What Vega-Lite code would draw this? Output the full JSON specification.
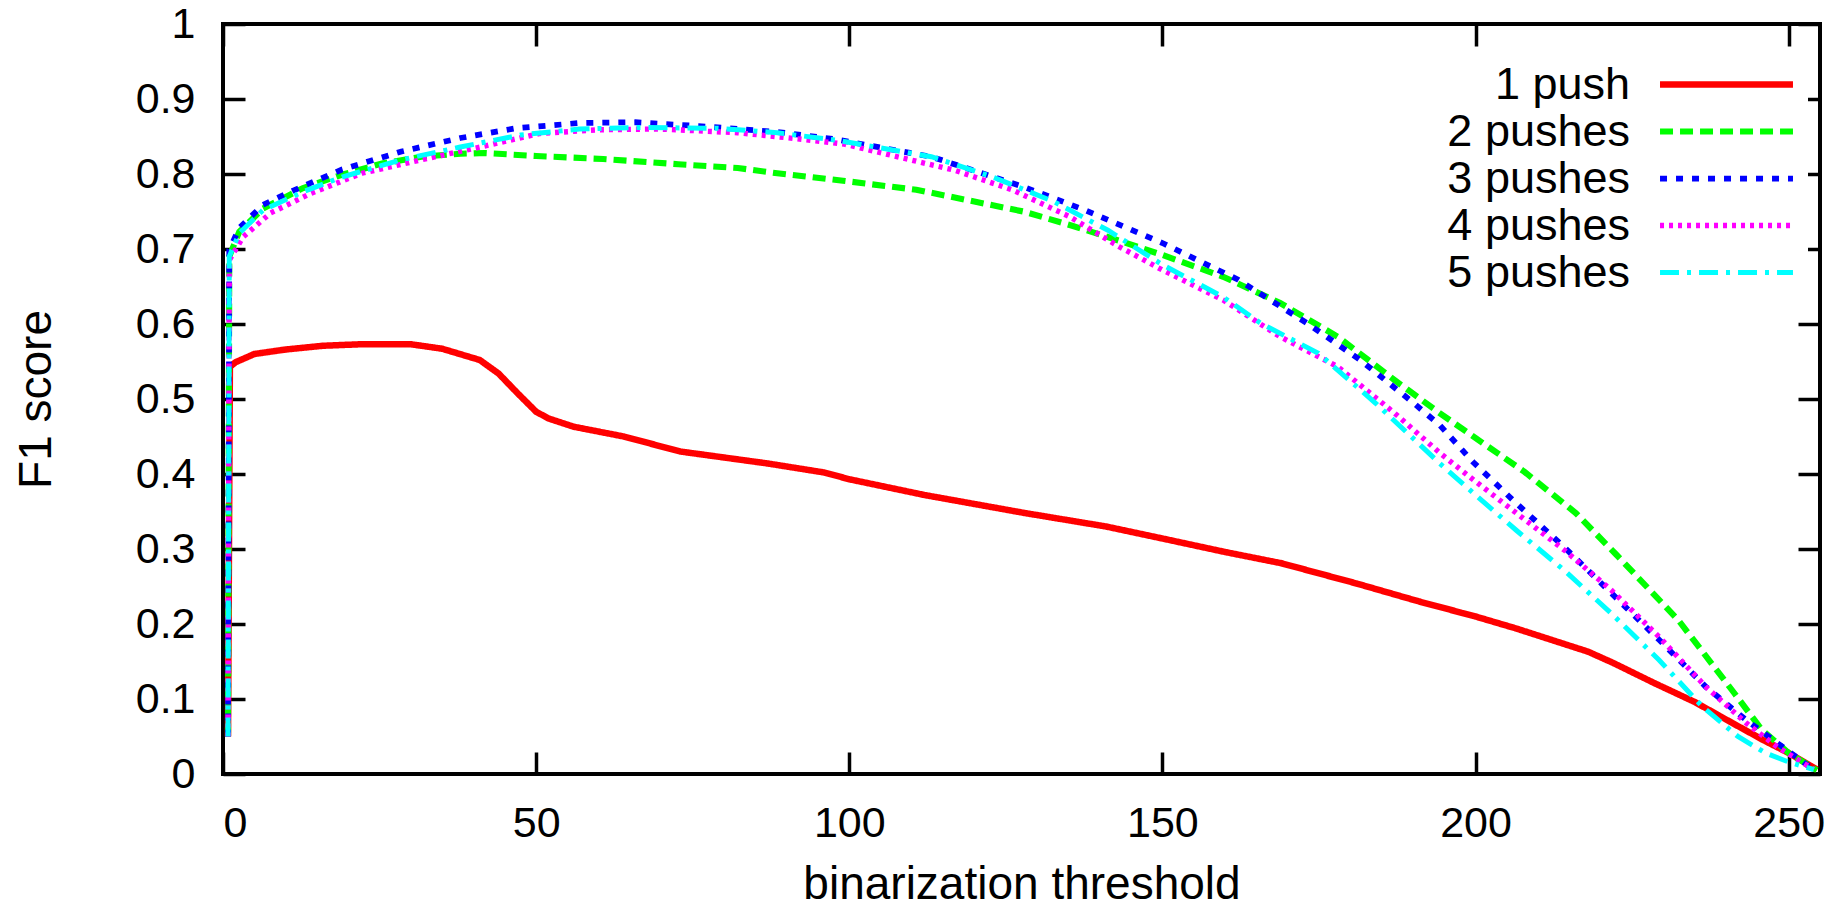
{
  "$schema": "https://vega.github.io/schema/vega-lite/v6.json",
  "width": 1597,
  "height": 750,
  "autosize": {"type": "none"},
  "padding": {"left": 223, "top": 24, "right": 27, "bottom": 134},
  "background": "white",
  "config": {
    "view": {"stroke": "black", "strokeWidth": 4},
    "font": "Liberation Sans",
    "axis": {
      "domain": false,
      "tickColor": "black",
      "tickWidth": 3.5,
      "tickSize": -22,
      "gridColor": "#444444",
      "gridWidth": 1.2,
      "gridDash": [4, 5],
      "labelFont": "Liberation Sans",
      "labelFontSize": 43,
      "labelColor": "black",
      "titleFont": "Liberation Sans",
      "titleFontSize": 46,
      "titleFontWeight": "normal",
      "titleColor": "black"
    }
  },
  "data": {
    "values": [
      {"s": "1 push", "t": 0.8, "f": 0.05}, {"s": "1 push", "t": 1.1, "f": 0.543}, {"s": "1 push", "t": 2, "f": 0.549}, {"s": "1 push", "t": 5, "f": 0.56}, {"s": "1 push", "t": 10, "f": 0.566}, {"s": "1 push", "t": 16, "f": 0.571}, {"s": "1 push", "t": 22, "f": 0.573}, {"s": "1 push", "t": 30, "f": 0.573}, {"s": "1 push", "t": 35, "f": 0.567}, {"s": "1 push", "t": 41, "f": 0.552}, {"s": "1 push", "t": 44, "f": 0.534}, {"s": "1 push", "t": 47, "f": 0.508}, {"s": "1 push", "t": 50, "f": 0.483}, {"s": "1 push", "t": 52, "f": 0.474}, {"s": "1 push", "t": 56, "f": 0.463}, {"s": "1 push", "t": 64, "f": 0.45}, {"s": "1 push", "t": 73, "f": 0.43}, {"s": "1 push", "t": 87, "f": 0.414}, {"s": "1 push", "t": 96, "f": 0.402}, {"s": "1 push", "t": 100, "f": 0.393}, {"s": "1 push", "t": 112, "f": 0.372}, {"s": "1 push", "t": 128, "f": 0.348}, {"s": "1 push", "t": 141, "f": 0.33}, {"s": "1 push", "t": 150, "f": 0.314}, {"s": "1 push", "t": 160, "f": 0.296}, {"s": "1 push", "t": 169, "f": 0.281}, {"s": "1 push", "t": 181, "f": 0.254}, {"s": "1 push", "t": 191, "f": 0.23}, {"s": "1 push", "t": 200, "f": 0.21}, {"s": "1 push", "t": 206.5, "f": 0.194}, {"s": "1 push", "t": 218, "f": 0.163}, {"s": "1 push", "t": 222, "f": 0.148}, {"s": "1 push", "t": 228.6, "f": 0.121}, {"s": "1 push", "t": 235, "f": 0.096}, {"s": "1 push", "t": 241, "f": 0.068}, {"s": "1 push", "t": 246, "f": 0.045}, {"s": "1 push", "t": 250, "f": 0.028}, {"s": "1 push", "t": 254.5, "f": 0.006},
      {"s": "2 pushes", "t": 0.8, "f": 0.05}, {"s": "2 pushes", "t": 1, "f": 0.69}, {"s": "2 pushes", "t": 2.6, "f": 0.723}, {"s": "2 pushes", "t": 6.4, "f": 0.754}, {"s": "2 pushes", "t": 12.7, "f": 0.781}, {"s": "2 pushes", "t": 19, "f": 0.799}, {"s": "2 pushes", "t": 25.4, "f": 0.814}, {"s": "2 pushes", "t": 31.7, "f": 0.823}, {"s": "2 pushes", "t": 37.9, "f": 0.827}, {"s": "2 pushes", "t": 41.8, "f": 0.828}, {"s": "2 pushes", "t": 50, "f": 0.824}, {"s": "2 pushes", "t": 60.7, "f": 0.82}, {"s": "2 pushes", "t": 72.7, "f": 0.813}, {"s": "2 pushes", "t": 82.2, "f": 0.808}, {"s": "2 pushes", "t": 88.5, "f": 0.801}, {"s": "2 pushes", "t": 99, "f": 0.791}, {"s": "2 pushes", "t": 110.7, "f": 0.779}, {"s": "2 pushes", "t": 127.8, "f": 0.75}, {"s": "2 pushes", "t": 135.2, "f": 0.732}, {"s": "2 pushes", "t": 141.3, "f": 0.716}, {"s": "2 pushes", "t": 150, "f": 0.692}, {"s": "2 pushes", "t": 159.7, "f": 0.663}, {"s": "2 pushes", "t": 168.8, "f": 0.628}, {"s": "2 pushes", "t": 178, "f": 0.583}, {"s": "2 pushes", "t": 187.1, "f": 0.525}, {"s": "2 pushes", "t": 194.3, "f": 0.481}, {"s": "2 pushes", "t": 200, "f": 0.448}, {"s": "2 pushes", "t": 207.8, "f": 0.403}, {"s": "2 pushes", "t": 216, "f": 0.348}, {"s": "2 pushes", "t": 222.3, "f": 0.294}, {"s": "2 pushes", "t": 232.4, "f": 0.205}, {"s": "2 pushes", "t": 241.3, "f": 0.108}, {"s": "2 pushes", "t": 245.7, "f": 0.059}, {"s": "2 pushes", "t": 250, "f": 0.028}, {"s": "2 pushes", "t": 254.5, "f": 0.005},
      {"s": "3 pushes", "t": 0.8, "f": 0.05}, {"s": "3 pushes", "t": 1, "f": 0.699}, {"s": "3 pushes", "t": 2.6, "f": 0.728}, {"s": "3 pushes", "t": 6.4, "f": 0.759}, {"s": "3 pushes", "t": 11.5, "f": 0.779}, {"s": "3 pushes", "t": 19, "f": 0.806}, {"s": "3 pushes", "t": 28.5, "f": 0.83}, {"s": "3 pushes", "t": 37.9, "f": 0.848}, {"s": "3 pushes", "t": 46.8, "f": 0.861}, {"s": "3 pushes", "t": 56.9, "f": 0.868}, {"s": "3 pushes", "t": 65.8, "f": 0.869}, {"s": "3 pushes", "t": 75.9, "f": 0.864}, {"s": "3 pushes", "t": 88.5, "f": 0.856}, {"s": "3 pushes", "t": 98, "f": 0.846}, {"s": "3 pushes", "t": 113.1, "f": 0.823}, {"s": "3 pushes", "t": 127.8, "f": 0.783}, {"s": "3 pushes", "t": 137.6, "f": 0.752}, {"s": "3 pushes", "t": 150, "f": 0.708}, {"s": "3 pushes", "t": 162.1, "f": 0.659}, {"s": "3 pushes", "t": 173.1, "f": 0.601}, {"s": "3 pushes", "t": 181.6, "f": 0.552}, {"s": "3 pushes", "t": 190.2, "f": 0.494}, {"s": "3 pushes", "t": 194.3, "f": 0.465}, {"s": "3 pushes", "t": 199.6, "f": 0.416}, {"s": "3 pushes", "t": 206.5, "f": 0.361}, {"s": "3 pushes", "t": 214.1, "f": 0.303}, {"s": "3 pushes", "t": 221.7, "f": 0.241}, {"s": "3 pushes", "t": 229.3, "f": 0.179}, {"s": "3 pushes", "t": 236.8, "f": 0.116}, {"s": "3 pushes", "t": 243.2, "f": 0.072}, {"s": "3 pushes", "t": 247.6, "f": 0.045}, {"s": "3 pushes", "t": 253.6, "f": 0.008},
      {"s": "4 pushes", "t": 0.8, "f": 0.05}, {"s": "4 pushes", "t": 1, "f": 0.685}, {"s": "4 pushes", "t": 3.2, "f": 0.716}, {"s": "4 pushes", "t": 7.6, "f": 0.748}, {"s": "4 pushes", "t": 14, "f": 0.774}, {"s": "4 pushes", "t": 22.2, "f": 0.801}, {"s": "4 pushes", "t": 31.7, "f": 0.819}, {"s": "4 pushes", "t": 41.1, "f": 0.836}, {"s": "4 pushes", "t": 50.6, "f": 0.854}, {"s": "4 pushes", "t": 60.1, "f": 0.859}, {"s": "4 pushes", "t": 69.6, "f": 0.86}, {"s": "4 pushes", "t": 82.2, "f": 0.855}, {"s": "4 pushes", "t": 91.6, "f": 0.847}, {"s": "4 pushes", "t": 99.1, "f": 0.84}, {"s": "4 pushes", "t": 116.8, "f": 0.805}, {"s": "4 pushes", "t": 126, "f": 0.779}, {"s": "4 pushes", "t": 135.2, "f": 0.743}, {"s": "4 pushes", "t": 143.1, "f": 0.703}, {"s": "4 pushes", "t": 150, "f": 0.672}, {"s": "4 pushes", "t": 159.7, "f": 0.632}, {"s": "4 pushes", "t": 168.8, "f": 0.583}, {"s": "4 pushes", "t": 178, "f": 0.543}, {"s": "4 pushes", "t": 187.1, "f": 0.481}, {"s": "4 pushes", "t": 194.3, "f": 0.428}, {"s": "4 pushes", "t": 200, "f": 0.39}, {"s": "4 pushes", "t": 206.5, "f": 0.348}, {"s": "4 pushes", "t": 214.1, "f": 0.299}, {"s": "4 pushes", "t": 221.7, "f": 0.245}, {"s": "4 pushes", "t": 229.3, "f": 0.183}, {"s": "4 pushes", "t": 236.8, "f": 0.116}, {"s": "4 pushes", "t": 243.2, "f": 0.068}, {"s": "4 pushes", "t": 248.2, "f": 0.036}, {"s": "4 pushes", "t": 254, "f": 0.006},
      {"s": "5 pushes", "t": 0.8, "f": 0.05}, {"s": "5 pushes", "t": 1, "f": 0.69}, {"s": "5 pushes", "t": 2.6, "f": 0.721}, {"s": "5 pushes", "t": 6.4, "f": 0.752}, {"s": "5 pushes", "t": 12.7, "f": 0.776}, {"s": "5 pushes", "t": 19, "f": 0.796}, {"s": "5 pushes", "t": 28.5, "f": 0.819}, {"s": "5 pushes", "t": 37.9, "f": 0.836}, {"s": "5 pushes", "t": 47.5, "f": 0.852}, {"s": "5 pushes", "t": 56.9, "f": 0.86}, {"s": "5 pushes", "t": 66.4, "f": 0.862}, {"s": "5 pushes", "t": 79, "f": 0.861}, {"s": "5 pushes", "t": 88.5, "f": 0.855}, {"s": "5 pushes", "t": 98, "f": 0.845}, {"s": "5 pushes", "t": 113.1, "f": 0.823}, {"s": "5 pushes", "t": 122.9, "f": 0.796}, {"s": "5 pushes", "t": 132.7, "f": 0.763}, {"s": "5 pushes", "t": 141.3, "f": 0.725}, {"s": "5 pushes", "t": 150, "f": 0.679}, {"s": "5 pushes", "t": 159.7, "f": 0.636}, {"s": "5 pushes", "t": 165.7, "f": 0.601}, {"s": "5 pushes", "t": 174.9, "f": 0.561}, {"s": "5 pushes", "t": 184.1, "f": 0.494}, {"s": "5 pushes", "t": 194.3, "f": 0.414}, {"s": "5 pushes", "t": 200, "f": 0.372}, {"s": "5 pushes", "t": 206.5, "f": 0.325}, {"s": "5 pushes", "t": 214.1, "f": 0.272}, {"s": "5 pushes", "t": 221.7, "f": 0.214}, {"s": "5 pushes", "t": 229.3, "f": 0.152}, {"s": "5 pushes", "t": 236.2, "f": 0.09}, {"s": "5 pushes", "t": 241.9, "f": 0.05}, {"s": "5 pushes", "t": 246.3, "f": 0.028}, {"s": "5 pushes", "t": 250, "f": 0.016}, {"s": "5 pushes", "t": 254, "f": 0.006}
    ]
  },
  "layer": [
    {
      "mark": {"type": "line", "opacity": 0, "clip": true},
      "encoding": {
        "x": {"field": "t", "type": "quantitative", "scale": {"domain": [0, 255], "nice": false, "zero": false},
          "axis": {"orient": "top", "values": [0, 50, 100, 150, 200, 250], "labels": false, "grid": false, "title": null}},
        "y": {"field": "f", "type": "quantitative", "scale": {"domain": [0, 1], "nice": false},
          "axis": {"orient": "right", "values": [0, 0.1, 0.2, 0.3, 0.4, 0.5, 0.6, 0.7, 0.8, 0.9, 1], "labels": false, "grid": false, "title": null}},
        "detail": {"field": "s"}
      }
    },
    {
      "mark": {"type": "line", "clip": true, "strokeCap": "butt"},
      "encoding": {
        "x": {"field": "t", "type": "quantitative",
          "axis": {"orient": "bottom", "values": [0, 50, 100, 150, 200, 250], "format": "d", "labelPadding": 50, "title": "binarization threshold", "titlePadding": 17}},
        "y": {"field": "f", "type": "quantitative",
          "axis": {"orient": "left", "values": [0, 0.1, 0.2, 0.3, 0.4, 0.5, 0.6, 0.7, 0.8, 0.9, 1], "format": "~g", "labelPadding": 50, "title": "F1 score", "titlePadding": 75}},
        "color": {"field": "s", "type": "nominal",
          "scale": {"domain": ["1 push", "2 pushes", "3 pushes", "4 pushes", "5 pushes"], "range": ["#ff0000", "#00ff00", "#0000ff", "#ff00ff", "#00ffff"]},
          "legend": {"title": null, "orient": "none", "legendX": 1479, "legendY": 36, "direction": "vertical", "symbolType": "M-4,0H4", "symbolSize": 1105, "symbolStrokeWidth": 5, "labelFontSize": 45, "labelFont": "Liberation Sans", "labelColor": "black", "labelAlign": "right", "labelOffset": -119, "labelLimit": 0, "rowPadding": 1, "fillColor": "white", "padding": 2}},
        "strokeDash": {"field": "s", "type": "nominal",
          "scale": {"domain": ["1 push", "2 pushes", "3 pushes", "4 pushes", "5 pushes"], "range": [[1, 0], [13, 7], [7, 9], [4, 5], [19, 8, 4, 8]]}},
        "strokeWidth": {"field": "s", "type": "nominal",
          "scale": {"domain": ["1 push", "2 pushes", "3 pushes", "4 pushes", "5 pushes"], "range": [6.5, 5, 5.5, 4.5, 5]}, "legend": null}
      }
    }
  ]
}
